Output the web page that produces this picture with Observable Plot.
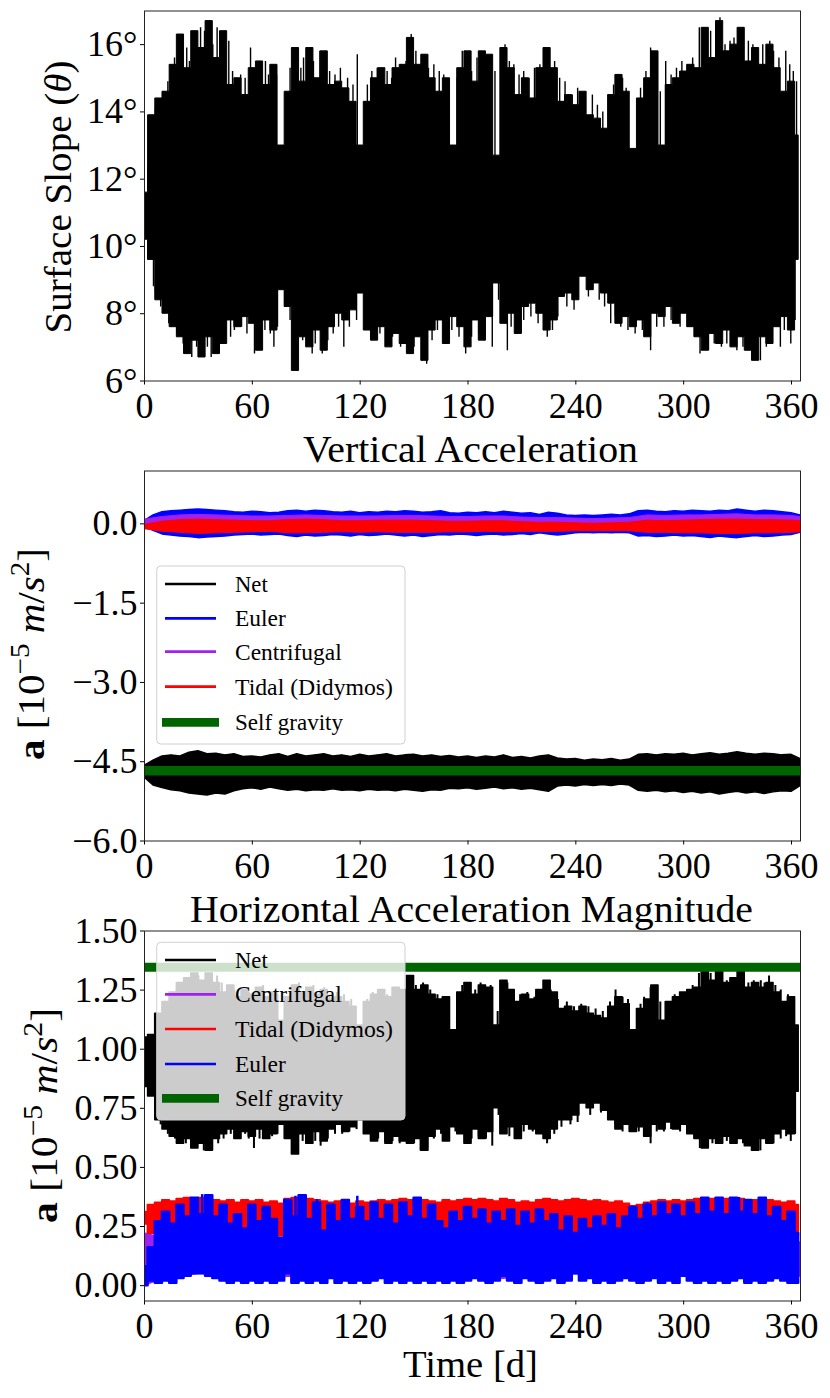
<!DOCTYPE html>
<html><head><meta charset="utf-8">
<script src="https://cdn.jsdelivr.net/npm/d3@7"></script>
<script src="https://cdn.jsdelivr.net/npm/@observablehq/plot@0.6"></script>
<style>
body{margin:0;background:#fff;}
#fig{position:relative;width:830px;height:1398px;overflow:hidden;background:#fff;}
#fig svg{position:absolute;left:0;}
</style></head><body><div id="fig"></div>
<script>
// ---------- time samples (days) ----------
const days4 = d3.range(0, 365, 4);            // 0..364
const days5 = d3.range(0, 366, 5);            // 0..365
const days10 = [...d3.range(0, 361, 10), 365]; // 0..360, 365
const xTicks = [0, 60, 120, 180, 240, 300, 360];

// ---------- Panel 1: surface slope (deg): envelope + individual spikes ----------
const slopeUpper = [11.6,13.9,14.4,14.6,15.4,16.3,15.3,16.4,15.9,16.7,
15.6,16.4,14.8,15.0,14.5,15.3,15.5,14.8,15.4,13.0,
14.6,15.9,14.9,15.9,15.0,15.8,14.8,14.9,14.7,14.3,
13.0,14.3,15.0,15.3,14.8,15.3,15.4,16.2,15.4,15.7,
15.0,14.6,15.0,13.0,15.3,15.8,14.9,15.8,15.7,12.7,
15.9,15.3,14.5,15.0,14.4,15.3,15.9,15.3,14.3,14.5,
14.2,14.6,13.9,13.8,13.5,14.5,15.1,14.6,12.9,14.4,
15.0,15.8,13.0,14.8,15.0,15.2,15.4,15.3,16.5,15.6,
16.7,15.8,16.0,16.5,15.5,15.9,15.4,16.0,15.3,14.6,
14.9,13.3];
const slopeLower = [10.2,9.6,8.4,8.0,7.6,7.3,6.8,7.2,6.7,7.3,
6.8,7.1,7.8,7.6,7.9,7.7,6.9,7.8,7.5,8.7,
8.2,6.3,7.3,7.0,7.5,6.9,7.6,8.0,7.8,8.1,
8.6,7.5,7.2,7.6,7.0,7.4,7.1,6.8,7.3,6.6,
7.5,7.8,7.1,7.9,7.6,7.0,7.8,7.2,7.9,8.9,
7.7,8.0,7.4,8.2,8.3,8.0,7.5,7.8,8.5,8.6,
8.4,9.1,8.7,8.9,8.6,8.3,7.7,7.9,7.6,7.8,
7.3,8.0,7.9,8.2,7.7,8.0,7.6,7.3,6.9,7.4,
7.1,7.5,7.0,7.3,6.9,6.6,7.3,7.1,7.6,7.9,
7.5,9.6];
const slopeSpikesUp = [[2,12.4],[4,13.9],[6.1,14.1],[8.5,14.4],[10.8,14.6],[13,14.9],[15,15.2],[16.7,15.6],[18.5,15.6],
[21.3,16.3],[23.5,15.9],[25,15.5],[27.1,16.2],[29,15.9],[31.2,16.5],[33.4,16.4],[36.0,16.7],[38,16.0],[40.4,16.5],
[42.5,15.9],[44.5,16.4],[46.9,16.1],[49,15.2],[51.0,15.0],[53.5,15.1],[56,15.0],[59.0,15.9],[62,15.3],[64.5,15.5],
[67.3,15.5],[69,15.1],[71.1,15.3],[73.5,15.1],[78.5,14.5],[81,15.3],[84.0,15.9],[87,15.3],[88.5,15.6],[90.9,15.9],
[94,15.5],[97.6,15.8],[100.2,15.8],[103,15.2],[106,15.1],[109,15.3],[113,15.0],[116,14.8],[118.4,15.7],[124,14.8],
[126.5,15.2],[129.5,15.3],[132,15.1],[135,15.2],[137.5,15.0],[139.7,15.6],[143,15.4],[145.5,15.5],[148.4,16.3],
[151,15.8],[155.5,15.7],[158,15.3],[161,15.4],[164,15.2],[166.5,15.1],[174,15.0],[176.8,15.8],[179,15.4],[182,15.2],
[185,15.6],[188,15.3],[190,15.4],[192.6,15.7],[195,15.2],[200.6,16.0],[203,15.5],[205.5,15.4],[208.4,15.1],[211,15.2],
[214,15.0],[217,15.3],[220,15.4],[222.8,15.9],[225,15.6],[228.2,15.5],[231,15.0],[234,14.9],[238,14.5],[241,14.7],
[245,14.4],[249.2,14.5],[252,14.2],[255,14.0],[258,14.5],[261,14.8],[263.1,15.1],[266,15.0],[268,14.7],[276,14.7],
[279,15.2],[281.6,15.9],[284,15.3],[287,14.6],[290.0,15.5],[293,15.1],[296,15.3],[299,15.5],[302,15.4],[305,15.6],
[308.7,16.5],[311,16.0],[315.0,16.4],[318,16.2],[320.2,16.8],[323,16.0],[325.8,16.1],[328,16.2],[331,15.9],
[333.2,16.5],[336,16.1],[338.5,16.0],[341.1,15.8],[344,16.0],[347.9,16.1],[350,15.8],[353,15.6],[356.8,15.8],
[359,15.4],[361,15.2],[362.8,14.9]];
const slopeSpikesDown = [[2,9.6],[5,8.8],[6.1,8.6],[9,8.2],[11,8.0],[13.5,7.7],[15,7.6],[18,7.4],[21.5,7.1],[23,7.2],
[26.3,6.7],[29,7.0],[31,7.1],[33.0,6.8],[35,7.0],[37.1,6.7],[39,6.9],[42,7.1],[45,7.3],[47.9,7.3],[50,7.5],[54,7.6],
[57,7.4],[61.2,6.8],[64,7.3],[67,7.5],[70,7.4],[72.0,7.0],[74,7.6],[78,8.2],[81,7.8],[83,7.2],[85.0,6.3],[88,7.2],
[90,7.0],[93.3,6.8],[95,7.1],[98.9,6.8],[102,7.2],[105,7.4],[108,7.6],[110.9,7.0],[114,7.6],[118,7.8],[123,7.6],
[126,7.3],[128.6,7.4],[131,7.4],[135,7.2],[138,7.3],[142.5,7.0],[146,7.1],[150,7.0],[154.6,6.6],[157.0,6.5],[160,7.2],
[163,7.5],[167,7.3],[171,7.5],[175,7.3],[178.7,6.8],[182,7.3],[186,7.4],[189,7.2],[193.5,7.0],[197,8.4],[201.9,6.9],
[204,7.6],[207,7.4],[211,7.8],[215,7.9],[219,7.7],[224.1,7.3],[227,7.5],[230,7.9],[235,8.2],[239,8.1],[247,8.5],
[253,8.4],[256,8.2],[259.4,7.7],[262,7.9],[265,7.6],[269,7.5],[273,7.4],[277,7.5],[281.6,6.9],[285,7.6],[289,7.6],
[293,7.8],[298,7.6],[302,7.6],[306,7.3],[309.1,6.8],[311,7.1],[313.8,6.9],[317,7.1],[321,7.0],[324,7.1],[327,7.0],
[329.6,6.9],[333,7.0],[336,6.9],[339,7.0],[342.7,6.6],[346,7.0],[349,7.1],[353.8,7.0],[356,7.5],[359.6,7.1],[362,7.8]];
const slopeMid = 11;

// ---------- Panel 2: vertical acceleration (1e-5 m/s^2) ----------
const netVUpper = [-4.58,-4.48,-4.40,-4.38,-4.40,-4.33,-4.30,-4.36,-4.35,-4.38,
-4.36,-4.41,-4.40,-4.42,-4.38,-4.36,-4.41,-4.36,-4.40,-4.38,
-4.36,-4.40,-4.38,-4.41,-4.37,-4.40,-4.38,-4.36,-4.40,-4.38,
-4.37,-4.40,-4.38,-4.41,-4.39,-4.42,-4.40,-4.43,-4.40,-4.42,
-4.38,-4.43,-4.41,-4.44,-4.40,-4.38,-4.44,-4.46,-4.45,-4.48,
-4.46,-4.47,-4.45,-4.48,-4.46,-4.37,-4.36,-4.38,-4.36,-4.37,
-4.35,-4.38,-4.36,-4.34,-4.37,-4.35,-4.32,-4.35,-4.37,-4.35,
-4.36,-4.38,-4.37,-4.45];
const netVLower = [-4.80,-4.95,-5.00,-5.04,-5.06,-5.10,-5.12,-5.14,-5.10,-5.12,
-5.06,-5.02,-5.00,-5.03,-4.99,-5.02,-5.05,-5.03,-5.06,-5.04,
-5.05,-5.02,-5.05,-5.04,-5.06,-5.03,-5.05,-5.04,-5.06,-5.03,
-5.05,-5.07,-5.04,-5.05,-5.01,-5.02,-5.00,-5.03,-5.01,-4.99,
-5.02,-5.00,-5.03,-5.01,-5.04,-5.07,-4.97,-4.95,-4.97,-4.94,
-4.96,-4.94,-4.96,-4.93,-4.95,-5.05,-5.07,-5.05,-5.08,-5.06,
-5.09,-5.07,-5.10,-5.08,-5.12,-5.09,-5.07,-5.10,-5.08,-5.11,
-5.08,-5.06,-5.07,-4.96];
const eulerVUpper = [0.05,0.16,0.22,0.24,0.25,0.26,0.27,0.26,0.25,0.24,
0.22,0.21,0.23,0.22,0.20,0.21,0.24,0.25,0.23,0.25,
0.24,0.22,0.21,0.23,0.20,0.22,0.21,0.23,0.22,0.24,
0.23,0.21,0.22,0.24,0.20,0.19,0.21,0.20,0.22,0.20,
0.23,0.21,0.19,0.20,0.17,0.21,0.19,0.16,0.15,0.16,
0.15,0.16,0.17,0.16,0.18,0.24,0.25,0.23,0.22,0.24,
0.23,0.25,0.24,0.23,0.25,0.24,0.27,0.25,0.23,0.25,
0.24,0.22,0.20,0.16];
const eulerVLower = [-0.03,-0.13,-0.20,-0.22,-0.24,-0.25,-0.27,-0.26,-0.25,-0.24,
-0.22,-0.21,-0.20,-0.22,-0.21,-0.20,-0.23,-0.25,-0.22,-0.24,
-0.23,-0.21,-0.22,-0.24,-0.21,-0.23,-0.22,-0.20,-0.22,-0.24,
-0.22,-0.25,-0.23,-0.21,-0.22,-0.20,-0.21,-0.23,-0.21,-0.20,
-0.22,-0.21,-0.19,-0.21,-0.18,-0.20,-0.22,-0.20,-0.18,-0.17,
-0.18,-0.17,-0.18,-0.17,-0.18,-0.24,-0.23,-0.25,-0.24,-0.22,
-0.24,-0.23,-0.25,-0.27,-0.24,-0.26,-0.27,-0.25,-0.23,-0.25,
-0.24,-0.22,-0.21,-0.17];
const centVUpper = [0.08,0.13,0.16,0.17,0.16,0.15,0.14,0.14,0.15,0.16,
0.15,0.14,0.14,0.14,0.15,0.15,0.14,0.13,0.13,0.14,
0.14,0.12,0.11,0.11,0.10,0.09,0.10,0.11,0.16,0.15,
0.16,0.16,0.17,0.18,0.16,0.16,0.15,0.13];
const centVLower = [-0.02,-0.05,-0.06,-0.07,-0.06,-0.06,-0.05,-0.05,-0.06,-0.06,
-0.06,-0.05,-0.05,-0.05,-0.06,-0.06,-0.06,-0.05,-0.05,-0.05,
-0.05,-0.05,-0.05,-0.05,-0.04,-0.04,-0.04,-0.04,-0.06,-0.06,
-0.06,-0.06,-0.07,-0.07,-0.06,-0.06,-0.06,-0.05];
const tidalVUpper = [-0.02,0.04,0.07,0.08,0.07,0.06,0.05,0.05,0.07,0.08,
0.07,0.05,0.05,0.06,0.06,0.06,0.05,0.04,0.04,0.05,
0.05,0.03,0.02,0.02,0.01,0.0,0.01,0.02,0.06,0.05,
0.06,0.07,0.08,0.08,0.07,0.07,0.06,0.05];
const tidalVLower = [-0.10,-0.15,-0.17,-0.19,-0.18,-0.17,-0.16,-0.15,-0.18,-0.18,
-0.17,-0.16,-0.17,-0.16,-0.17,-0.17,-0.17,-0.16,-0.16,-0.15,
-0.16,-0.15,-0.15,-0.15,-0.14,-0.14,-0.14,-0.14,-0.17,-0.17,
-0.18,-0.18,-0.19,-0.19,-0.18,-0.18,-0.17,-0.16];
const selfGravityV = -4.67;

// ---------- Panel 3: horizontal acceleration magnitude ----------
const netHUpper = [1.05,1.06,1.15,1.20,1.24,1.28,1.30,1.32,1.29,1.32,
1.28,1.24,1.27,1.22,1.25,1.23,1.26,1.22,1.24,1.12,
1.22,1.27,1.24,1.26,1.23,1.25,1.21,1.22,1.20,1.18,
1.10,1.20,1.23,1.25,1.22,1.26,1.25,1.31,1.25,1.27,
1.23,1.21,1.22,1.08,1.24,1.28,1.23,1.27,1.26,1.10,
1.29,1.25,1.20,1.23,1.21,1.25,1.29,1.24,1.17,1.18,
1.16,1.18,1.15,1.14,1.13,1.18,1.22,1.19,1.08,1.17,
1.21,1.27,1.12,1.20,1.22,1.24,1.25,1.26,1.33,1.29,
1.33,1.28,1.30,1.33,1.26,1.28,1.26,1.28,1.24,1.20,
1.22,1.10];
const netHLower = [0.84,0.80,0.70,0.66,0.63,0.60,0.62,0.58,0.60,0.57,
0.62,0.64,0.66,0.62,0.65,0.63,0.66,0.62,0.64,0.68,
0.62,0.555,0.64,0.60,0.65,0.61,0.66,0.68,0.65,0.67,
0.70,0.64,0.61,0.65,0.60,0.63,0.61,0.60,0.62,0.57,
0.63,0.66,0.61,0.67,0.64,0.60,0.66,0.62,0.65,0.75,
0.64,0.67,0.62,0.68,0.66,0.64,0.62,0.66,0.70,0.70,
0.72,0.77,0.75,0.77,0.74,0.70,0.66,0.68,0.65,0.67,
0.63,0.68,0.66,0.69,0.66,0.68,0.64,0.62,0.58,0.62,
0.60,0.63,0.60,0.62,0.59,0.57,0.62,0.60,0.64,0.66,
0.64,0.82];
const netHSpikesUp = [[5.8,1.15],[10,1.18],[14,1.22],[18,1.26],[22,1.29],[25,1.30],[27.5,1.32],[30,1.31],[32,1.29],
[34.9,1.32],[37.5,1.30],[40.4,1.31],[43,1.28],[46,1.26],[50,1.25],[55,1.25],[58,1.24],[62,1.25],[66,1.27],[70,1.24],
[74,1.23],[79,1.20],[82,1.25],[86,1.28],[90,1.26],[94,1.27],[100,1.26],[103,1.23],[107,1.24],[111,1.23],[115,1.21],
[124,1.21],[127,1.24],[131,1.25],[135,1.23],[139,1.26],[143,1.25],[148,1.31],[151,1.27],[155,1.28],[159,1.25],
[163,1.23],[166,1.22],[174,1.22],[176.8,1.27],[180,1.26],[184,1.25],[187,1.28],[190,1.25],[192.6,1.27],[196.5,1.16],
[201.9,1.28],[205,1.25],[209,1.23],[213,1.24],[217,1.22],[220,1.25],[223.2,1.29],[226,1.25],[230,1.21],[235,1.20],
[239,1.18],[243,1.19],[247,1.18],[251,1.17],[255,1.16],[259,1.20],[262.1,1.25],[266,1.22],[269,1.21],[276,1.19],
[278,1.22],[281.6,1.26],[284.5,1.24],[287,1.20],[291,1.20],[295,1.23],[299,1.24],[302,1.25],[305,1.27],[308.5,1.32],
[311,1.29],[315,1.32],[318,1.30],[320.6,1.32],[324,1.29],[327,1.30],[332,1.31],[336,1.28],[339,1.29],[342.9,1.29],
[345,1.28],[347.5,1.31],[351,1.27],[354,1.25],[358,1.23],[361,1.22]];
const netHSpikesDown = [[6,0.74],[9,0.68],[13,0.64],[17,0.62],[20,0.61],[23,0.60],[26.5,0.58],[29,0.59],[31,0.60],
[33,0.57],[35,0.59],[37.7,0.57],[41,0.60],[44,0.62],[48,0.64],[52,0.63],[56,0.64],[58,0.62],[60.9,0.58],[64,0.62],
[67,0.63],[71,0.63],[74,0.64],[79,0.66],[82,0.62],[85,0.555],[88,0.61],[91,0.60],[95,0.61],[98,0.59],[102,0.62],
[106,0.64],[110,0.64],[114,0.65],[118,0.66],[123,0.65],[126,0.62],[130,0.62],[134,0.61],[138,0.61],[142,0.60],
[146,0.60],[150,0.60],[153.6,0.57],[157.3,0.58],[161,0.62],[165,0.64],[169,0.63],[173,0.65],[178.7,0.60],[182,0.62],
[186,0.63],[190,0.62],[193.5,0.59],[197,0.72],[203,0.63],[207,0.63],[211,0.65],[216,0.65],[220,0.64],[224,0.60],
[228,0.64],[232,0.67],[237,0.68],[241,0.69],[248,0.72],[254,0.73],[258,0.71],[262,0.68],[266,0.65],[270,0.65],
[275,0.65],[279,0.64],[281.6,0.60],[285,0.65],[289,0.65],[293,0.66],[298,0.65],[302,0.65],[306,0.62],[309,0.58],
[312,0.60],[316,0.60],[320,0.60],[324,0.61],[328,0.60],[333,0.60],[337,0.59],[340,0.59],[342.7,0.57],[346,0.60],
[350,0.60],[354,0.62],[357,0.63],[359.6,0.61],[362,0.64]];
const netHMid = 0.95;
const tidalHUpper = [0.31,0.34,0.35,0.36,0.355,0.365,0.37,0.36,0.37,0.365,
0.36,0.355,0.36,0.35,0.36,0.355,0.36,0.35,0.355,0.345,
0.365,0.37,0.36,0.365,0.36,0.355,0.35,0.355,0.35,0.345,
0.355,0.35,0.355,0.36,0.355,0.36,0.365,0.36,0.355,0.36,
0.355,0.35,0.36,0.355,0.36,0.365,0.36,0.365,0.36,0.355,
0.365,0.36,0.35,0.355,0.35,0.36,0.365,0.36,0.355,0.36,
0.365,0.36,0.355,0.36,0.355,0.35,0.355,0.345,0.335,0.34,
0.35,0.355,0.36,0.355,0.36,0.355,0.36,0.365,0.36,0.365,
0.36,0.365,0.36,0.365,0.36,0.36,0.355,0.36,0.355,0.35,
0.355,0.34];
const tidalHLower = [0.26,0.22,0.22,0.24,0.25,0.23,0.24,0.22,0.23,0.24,
0.23,0.22,0.24,0.23,0.22,0.24,0.23,0.22,0.24,0.21,
0.23,0.24,0.22,0.23,0.24,0.22,0.23,0.24,0.22,0.23,
0.22,0.23,0.24,0.22,0.23,0.24,0.23,0.22,0.24,0.23,
0.22,0.23,0.24,0.22,0.23,0.24,0.22,0.23,0.24,0.22,
0.23,0.22,0.24,0.23,0.22,0.23,0.24,0.22,0.21,0.22,
0.20,0.21,0.22,0.20,0.21,0.22,0.23,0.22,0.24,0.23,
0.24,0.23,0.24,0.23,0.24,0.23,0.24,0.23,0.24,0.23,
0.24,0.23,0.24,0.23,0.24,0.23,0.24,0.23,0.22,0.21,
0.20,0.21];
const eulerHUpper = [0.08,0.16,0.27,0.31,0.26,0.34,0.29,0.37,0.30,0.38,
0.29,0.34,0.26,0.30,0.24,0.34,0.27,0.33,0.28,0.20,
0.36,0.29,0.38,0.28,0.35,0.23,0.34,0.27,0.36,0.28,
0.33,0.27,0.35,0.28,0.34,0.26,0.35,0.29,0.37,0.28,
0.34,0.27,0.24,0.31,0.27,0.33,0.28,0.32,0.26,0.31,
0.27,0.32,0.25,0.31,0.26,0.32,0.27,0.30,0.23,0.29,
0.22,0.28,0.24,0.29,0.25,0.30,0.24,0.29,0.33,0.28,
0.34,0.29,0.35,0.30,0.34,0.29,0.35,0.30,0.37,0.31,
0.37,0.30,0.37,0.31,0.36,0.30,0.37,0.29,0.33,0.27,
0.31,0.22];
const eulerHLower = [0.0,0.02,0.01,0.02,0.01,0.03,0.04,0.05,0.05,0.04,
0.03,0.02,0.01,0.02,0.01,0.02,0.01,0.02,0.01,0.02,
0.05,0.01,0.02,0.01,0.02,0.01,0.03,0.01,0.02,0.01,
0.02,0.01,0.02,0.03,0.01,0.02,0.01,0.02,0.01,0.02,
0.01,0.02,0.01,0.02,0.01,0.02,0.03,0.02,0.01,0.02,
0.04,0.02,0.01,0.03,0.02,0.01,0.02,0.03,0.01,0.02,
0.05,0.02,0.03,0.01,0.02,0.01,0.02,0.03,0.02,0.01,
0.02,0.03,0.01,0.02,0.01,0.04,0.02,0.01,0.02,0.01,
0.02,0.01,0.02,0.03,0.01,0.02,0.01,0.02,0.03,0.02,
0.01,0.01];
const eulerHSpikesUp = [[27.5,0.37],[32.1,0.385],[35.8,0.378],[84,0.378],[96,0.364],[118.4,0.378],[153.6,0.37],
[279.8,0.35],[312.2,0.37],[330.8,0.373],[341.9,0.364]];
const eulerHMid = 0.15;
const centHUpper = [0.22,0.20,0.19,0.21,0.20,0.19,0.20,0.21,0.19,0.20,
0.21,0.20,0.19,0.20,0.21,0.20,0.19,0.20,0.21,0.20,
0.19,0.20,0.21,0.20,0.21,0.20,0.19,0.20,0.21,0.20,
0.21,0.20,0.19,0.20,0.21,0.20,0.19,0.18];
const centHLower = [0.0,0.03,0.04,0.05,0.05,0.04,0.03,0.03,0.04,0.03,
0.03,0.03,0.04,0.03,0.03,0.04,0.03,0.03,0.04,0.03,
0.03,0.04,0.03,0.04,0.05,0.04,0.03,0.04,0.05,0.06,
0.05,0.04,0.05,0.04,0.04,0.03,0.04,0.04];
const selfGravityH = 1.347;

// ---------- colours / legend ----------
const C = {net:"#000000", euler:"#0000ff", cent:"#a020f0", tidal:"#ff0000", self:"#006400"};
const legendV = [["Net",C.net,2.7],["Euler",C.euler,2.7],["Centrifugal",C.cent,2.7],["Tidal (Didymos)",C.tidal,2.7],["Self gravity",C.self,8.7]];
const legendH = [["Net",C.net,2.7],["Centrifugal",C.cent,2.7],["Tidal (Didymos)",C.tidal,2.7],["Euler",C.euler,2.7],["Self gravity",C.self,8.7]];

function band(days, lo, hi, color, sw = 2, curve = "linear") {
  const data = days.map((t, i) => ({t, lo: lo[i], hi: hi[i]}));
  return Plot.areaY(data, {x: "t", y1: "lo", y2: "hi", fill: color, stroke: color, strokeWidth: sw, strokeLinejoin: "round", curve, clip: true});
}
function spikes(list, base, color, sw) {
  return Plot.ruleX(list, {x: d => d[0], y1: base, y2: d => d[1], stroke: color, strokeWidth: sw, clip: true});
}

const fig = document.getElementById("fig");
const FONT = "'Liberation Serif', 'Times New Roman', serif";
function panel(top, yDomain, yTicks, yFmt, marks) {
  const svg = Plot.plot({
    width: 830, height: 430,
    marginLeft: 144, marginRight: 30, marginTop: 10.5, marginBottom: 49.5,
    style: {fontFamily: FONT, fontSize: "36px", background: "transparent", color: "#000", overflow: "visible"},
    x: {domain: [0, 365], ticks: xTicks, tickSize: 4, tickPadding: 7, label: null},
    y: {domain: yDomain, ticks: yTicks, tickFormat: yFmt, tickSize: 4, tickPadding: 3, label: null},
    marks: [...marks, Plot.frame({stroke: "#222", strokeWidth: 1})]
  });
  svg.style.top = top + "px";
  fig.appendChild(svg);
}

panel(0, [6, 17], [6, 8, 10, 12, 14, 16], d => d + "°", [
  band(days4, slopeLower, slopeUpper, C.net, 1, "step"),
  spikes(slopeSpikesUp, slopeMid, C.net, 1.4),
  spikes(slopeSpikesDown, slopeMid, C.net, 1.4)
]);

panel(460, [-6, 1], [0, -1.5, -3, -4.5, -6], d3.format(".1f"), [
  band(days5, netVLower, netVUpper, C.net, 1.5),
  band(days5, eulerVLower, eulerVUpper, C.euler, 1.5),
  band(days10, centVLower, centVUpper, C.cent, 1),
  band(days10, tidalVLower, tidalVUpper, C.tidal, 1),
  Plot.ruleY([selfGravityV], {stroke: C.self, strokeWidth: 9.5})
]);

panel(920, [-0.065, 1.5], [0, 0.25, 0.5, 0.75, 1, 1.25, 1.5], d3.format(".2f"), [
  band(days4, netHLower, netHUpper, C.net, 1.5, "step"),
  spikes(netHSpikesUp, netHMid, C.net, 2),
  spikes(netHSpikesDown, netHMid, C.net, 2),
  band(days10, centHLower, centHUpper, C.cent),
  band(days4, tidalHLower, tidalHUpper, C.tidal, 2, "step"),
  band(days4, eulerHLower, eulerHUpper, C.euler, 2.5, "step"),
  spikes(eulerHSpikesUp, eulerHMid, C.euler, 2.5),
  Plot.ruleY([selfGravityH], {stroke: C.self, strokeWidth: 9})
]);

// ---------- overlay: titles, axis labels, legends ----------
const ov = d3.select(fig).append("svg").attr("width", 830).attr("height", 1398).style("top", "0px")
  .attr("font-family", FONT);

function title(txt, x, y, size, len) {
  ov.append("text").attr("x", x).attr("y", y).attr("text-anchor", "middle")
    .attr("font-size", size).attr("textLength", len).attr("lengthAdjust", "spacingAndGlyphs").text(txt);
}
title("Vertical Acceleration", 470.5, 462, 37, 335);
title("Horizontal Acceleration Magnitude", 471.5, 922, 37, 563);
title("Time [d]", 470.5, 1377, 38, 135);

{
  const t = ov.append("text").attr("transform", "translate(71,197) rotate(-90)").attr("text-anchor", "middle")
    .attr("font-size", 37).attr("textLength", 273).attr("lengthAdjust", "spacingAndGlyphs");
  t.append("tspan").text("Surface Slope (");
  t.append("tspan").attr("font-style", "italic").text("θ");
  t.append("tspan").text(")");
}
function accLabel(x, y, len) {
  const t = ov.append("text").attr("transform", `translate(${x},${y}) rotate(-90)`).attr("text-anchor", "middle")
    .attr("font-size", 38).attr("textLength", len).attr("lengthAdjust", "spacingAndGlyphs");
  t.append("tspan").attr("font-weight", "bold").text("a");
  t.append("tspan").text(" [10");
  t.append("tspan").attr("font-size", 27).attr("dy", -15).text("−5");
  t.append("tspan").attr("dy", 15).text(" ");
  t.append("tspan").attr("font-style", "italic").text("m");
  t.append("tspan").text("/");
  t.append("tspan").attr("font-style", "italic").text("s");
  t.append("tspan").attr("font-size", 27).attr("dy", -15).text("2");
  t.append("tspan").attr("dy", 15).text("]");
}
accLabel(44, 654, 212);
accLabel(57, 1115.5, 215);

const labelLen = {"Net": 32.7, "Euler": 50.7, "Centrifugal": 106.7, "Tidal (Didymos)": 158, "Self gravity": 108};
function legend(x, y, w, h, rows, entries) {
  const g = ov.append("g");
  g.append("rect").attr("x", x).attr("y", y).attr("width", w).attr("height", h).attr("rx", 4)
    .attr("fill", "#fff").attr("fill-opacity", 0.8).attr("stroke", "#d0d0d0").attr("stroke-width", 1);
  entries.forEach(([lab, col, sw], i) => {
    const ry = rows[i];
    const thick = sw > 5;
    g.append("line").attr("x1", thick ? 162 : 165).attr("x2", thick ? 219 : 216).attr("y1", ry).attr("y2", ry)
      .attr("stroke", col).attr("stroke-width", sw);
    g.append("text").attr("x", 235).attr("y", ry + 8).attr("font-size", 23.5)
      .attr("textLength", labelLen[lab]).attr("lengthAdjust", "spacingAndGlyphs").text(lab);
  });
}
legend(156.7, 566, 248.3, 178, [584, 618.3, 651.7, 686.7, 722.3], legendV);
legend(156.7, 942.3, 248.3, 177.7, [960, 994.3, 1029, 1064, 1098.3], legendH);
</script>
</body></html>
